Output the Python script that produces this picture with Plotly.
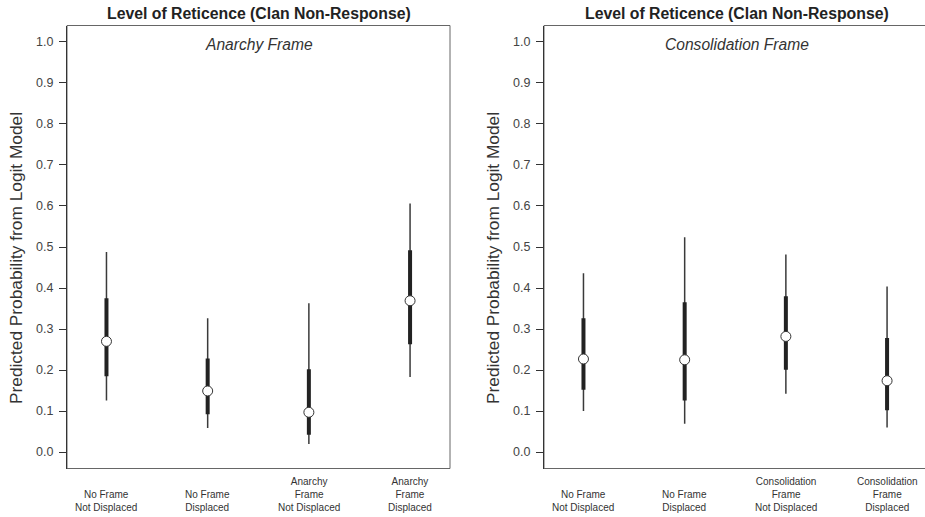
import plotly.graph_objects as go

# ---- data ----
titles = ["Level of Reticence (Clan Non-Response)", "Level of Reticence (Clan Non-Response)"]
frames = ["Anarchy Frame", "Consolidation Frame"]
cats_left = ["No Frame<br>Not Displaced", "No Frame<br>Displaced",
             "Anarchy<br>Frame<br>Not Displaced", "Anarchy<br>Frame<br>Displaced"]
cats_right = ["No Frame<br>Not Displaced", "No Frame<br>Displaced",
              "Consolidation<br>Frame<br>Not Displaced", "Consolidation<br>Frame<br>Displaced"]
est_left = [0.270, 0.149, 0.097, 0.369]
lo95_left = [0.126, 0.059, 0.020, 0.183]
hi95_left = [0.488, 0.326, 0.363, 0.606]
lo68_left = [0.185, 0.092, 0.042, 0.263]
hi68_left = [0.375, 0.228, 0.202, 0.492]
est_right = [0.227, 0.225, 0.282, 0.174]
lo95_right = [0.100, 0.069, 0.142, 0.060]
hi95_right = [0.436, 0.524, 0.482, 0.404]
lo68_right = [0.152, 0.126, 0.201, 0.102]
hi68_right = [0.326, 0.365, 0.380, 0.278]
yticks = [0.0, 0.1, 0.2, 0.3, 0.4, 0.5, 0.6, 0.7, 0.8, 0.9, 1.0]

W, H = 925, 517
FONT = "Liberation Sans, Arial"
fig = go.Figure()

def seg(lo, hi):
    xs, ys = [], []
    for i, (a, b) in enumerate(zip(lo, hi)):
        xs += [i + 1, i + 1, None]
        ys += [a, b, None]
    return xs, ys

panels = [
    ("x", "y", est_left, lo95_left, hi95_left, lo68_left, hi68_left),
    ("x2", "y2", est_right, lo95_right, hi95_right, lo68_right, hi68_right),
]
for xa, ya, est, l95, h95, l68, h68 in panels:
    xs, ys = seg(l95, h95)
    fig.add_trace(go.Scatter(x=xs, y=ys, mode="lines", xaxis=xa, yaxis=ya,
                             line=dict(color="#3a3a3a", width=1.5), showlegend=False, hoverinfo="skip"))
    xs, ys = seg(l68, h68)
    fig.add_trace(go.Scatter(x=xs, y=ys, mode="lines", xaxis=xa, yaxis=ya,
                             line=dict(color="#222222", width=4), showlegend=False, hoverinfo="skip"))
    fig.add_trace(go.Scatter(x=list(range(1, len(est) + 1)), y=est, mode="markers", xaxis=xa, yaxis=ya,
                             marker=dict(size=10, color="white", line=dict(color="#333333", width=1)),
                             showlegend=False))

ydom = [1 - 468.5 / H, 1 - 25.5 / H]
xdom1 = [67 / W, 450 / W]
xdom2 = [544 / W, 1.0]
unit = 101.2
yax = dict(range=[-0.04, 1.04], tickvals=yticks, ticktext=[f"{v:.1f}" for v in yticks],
           showgrid=False, zeroline=False, showline=True, linecolor="#333333", linewidth=1,
           ticks="outside", ticklen=7, tickcolor="#333333", tickwidth=1, ticklabelstandoff=3,
           tickfont=dict(family=FONT, size=12.5, color="#444444"))
xax = dict(showgrid=False, zeroline=False, showticklabels=False, showline=False, ticks="")
fig.update_layout(
    width=W, height=H, margin=dict(l=0, r=0, t=0, b=0),
    plot_bgcolor="white", paper_bgcolor="white",
    xaxis=dict(domain=xdom1, range=[0.61, 0.61 + 383 / unit], anchor="y", **xax),
    xaxis2=dict(domain=xdom2, range=[0.61, 0.61 + 381 / unit], anchor="y2", **xax),
    yaxis=dict(domain=ydom, anchor="x", **yax),
    yaxis2=dict(domain=ydom, anchor="x2", **yax),
)

# boxes
for xr, yr, x1 in [("x domain", "y domain", 1), ("x2 domain", "y2 domain", 1.01)]:
    fig.add_shape(type="rect", xref=xr, yref=yr, x0=0, x1=x1, y0=0, y1=1,
                  line=dict(color="#666666", width=1), layer="below")

anns = []
for k, (xa, cats) in enumerate([("x", cats_left), ("x2", cats_right)]):
    cx = (258.5 if k == 0 else 737) / W
    anns.append(dict(text="<b>" + titles[k] + "</b>", xref="paper", yref="paper", x=cx, y=1 - 13 / H,
                     xanchor="center", yanchor="middle", showarrow=False,
                     font=dict(family=FONT, size=15.8, color="#222222")))
    anns.append(dict(text="<i>" + frames[k] + "</i>", xref="paper", yref="paper", x=cx, y=1 - 44 / H,
                     xanchor="center", yanchor="middle", showarrow=False,
                     font=dict(family=FONT, size=15.6, color="#333333")))
    for i, c in enumerate(cats):
        anns.append(dict(text=c, xref=xa, yref="paper", x=i + 1, y=1 - 515 / H,
                         xanchor="center", yanchor="bottom", showarrow=False,
                         font=dict(family=FONT, size=10, color="#333333")))
    ylx = (16 if k == 0 else 493) / W
    anns.append(dict(text="Predicted Probability from Logit Model", xref="paper", yref="paper",
                     x=ylx, y=1 - 258 / H, textangle=-90, xanchor="center", yanchor="middle",
                     showarrow=False, font=dict(family=FONT, size=17.3, color="#333333")))
fig.update_layout(annotations=anns)

fig.write_html("out.html", config={"displayModeBar": False},
               post_script="document.body.style.margin='0';document.body.style.padding='0';"
                           "document.body.style.overflow='hidden';")
